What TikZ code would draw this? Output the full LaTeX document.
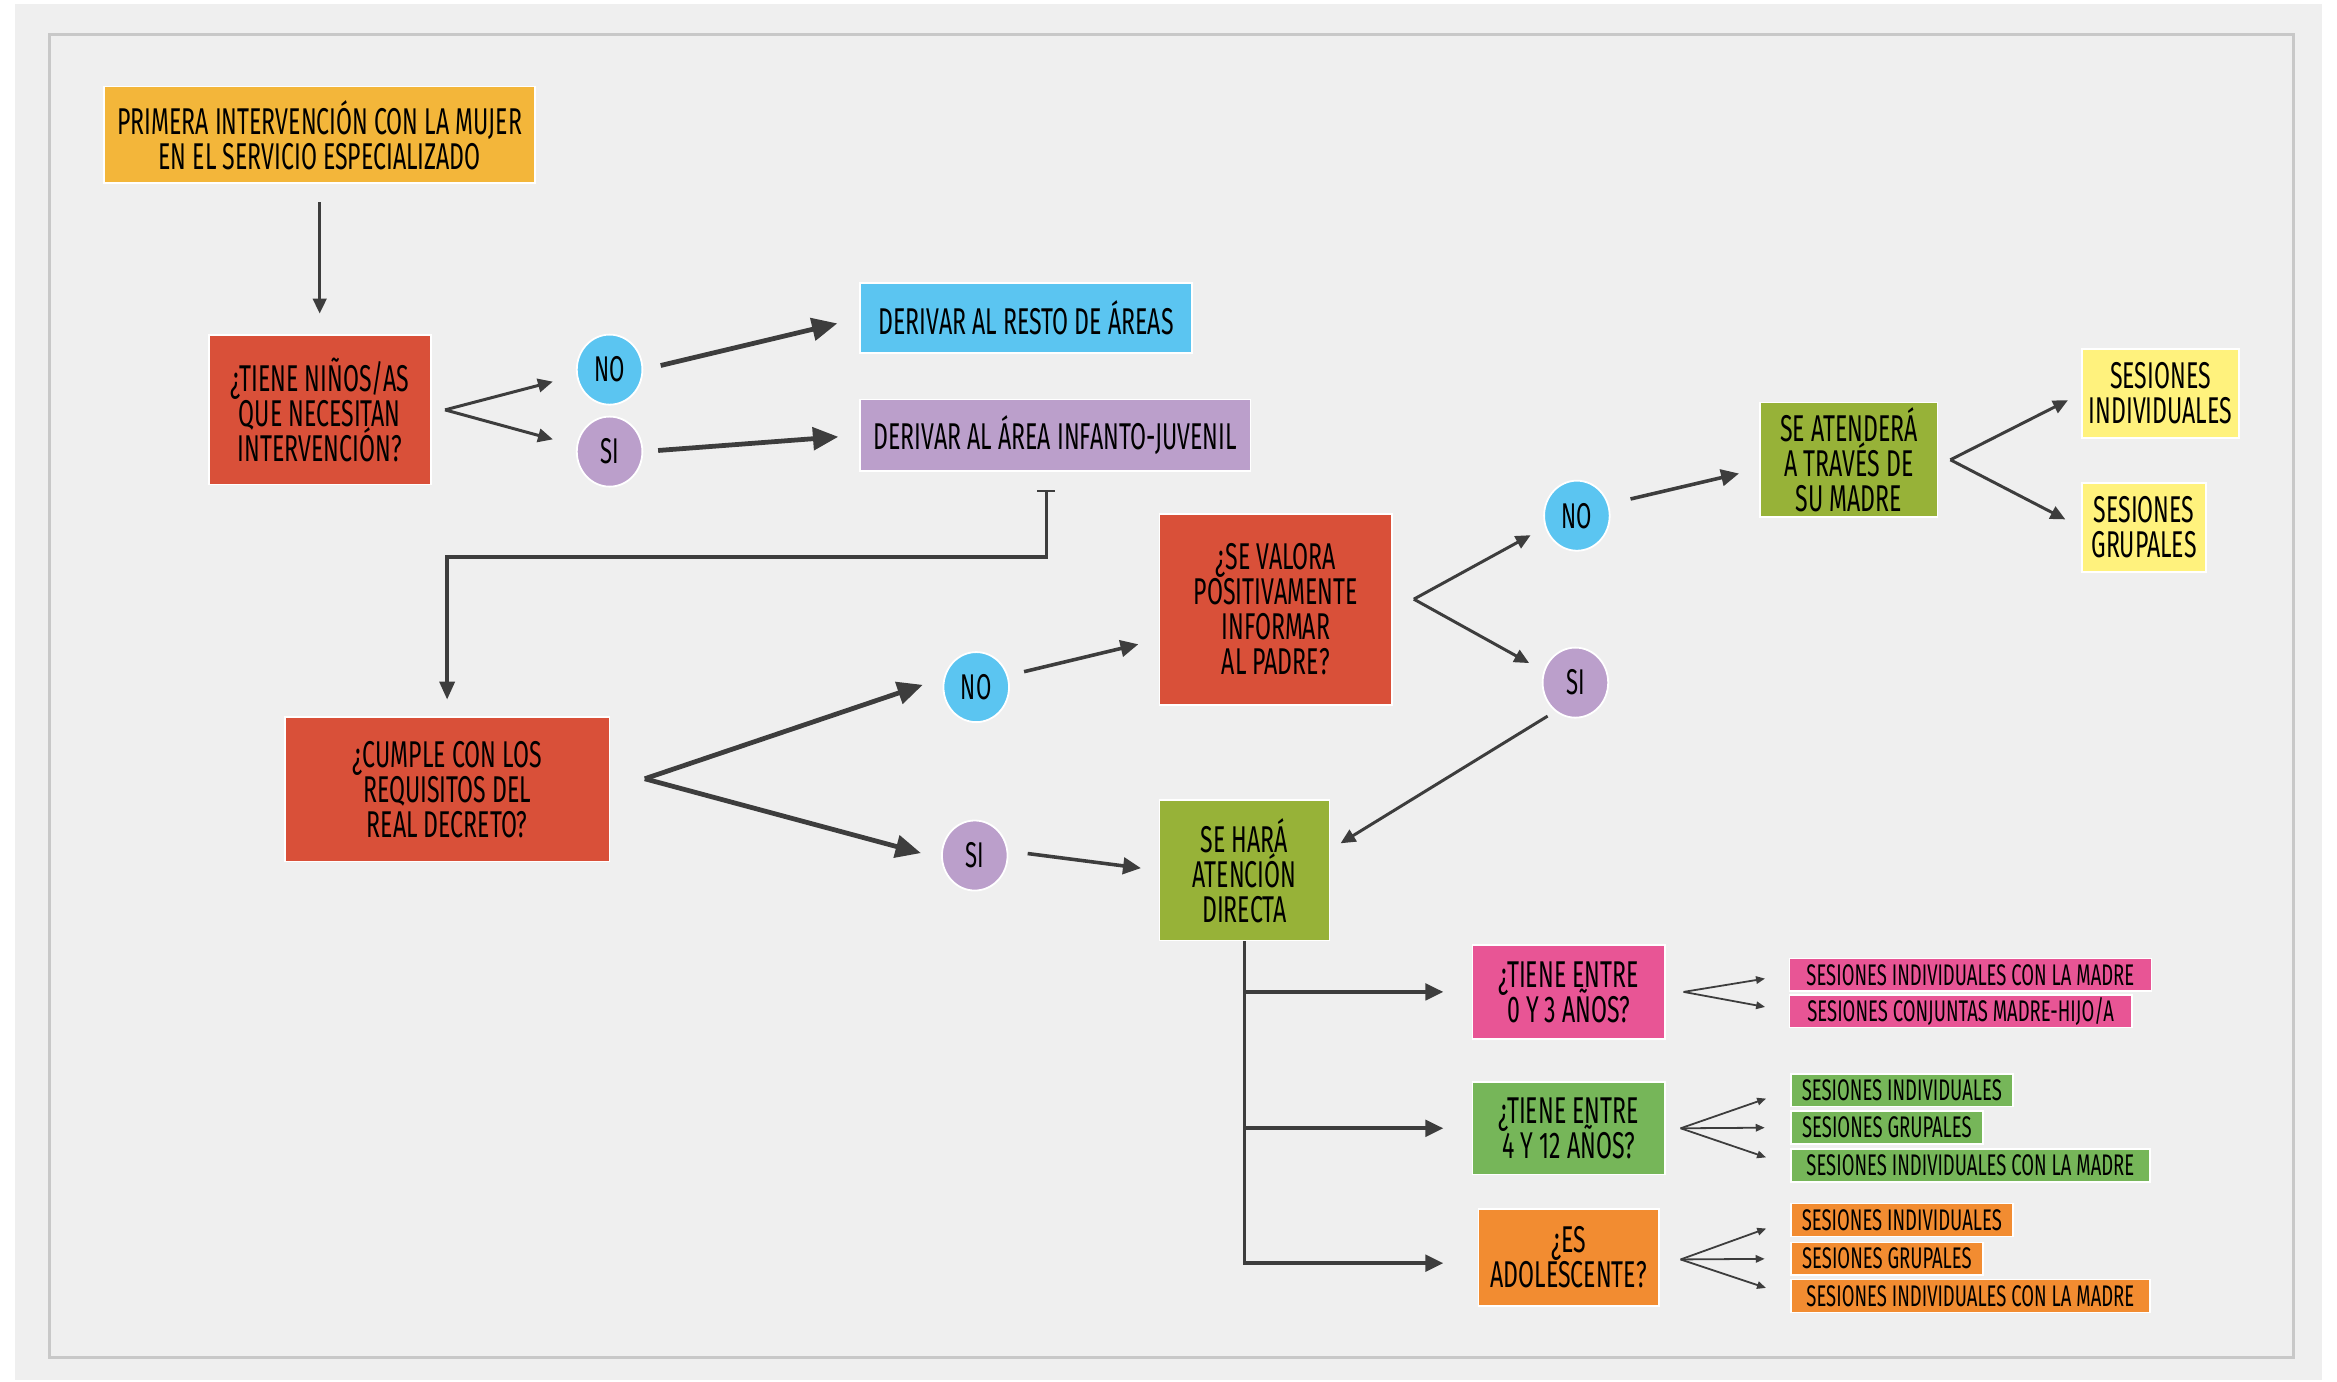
\documentclass[tikz,border=0pt]{standalone}
\usepackage{fontspec}
\setmainfont[FakeStretch=0.62]{Fira Sans}
\usetikzlibrary{arrows.meta,calc,shapes.geometric}
\newcommand{\tightlines}{\lineskiplimit=-30pt\relax\lineskip=0pt\relax}
\definecolor{bgc}{HTML}{EFEFEF}
\definecolor{frame}{HTML}{C8C8C8}
\definecolor{ar}{HTML}{3D3D3D}
\definecolor{cgold}{HTML}{F3B63A}
\definecolor{cred}{HTML}{D95039}
\definecolor{cblue}{HTML}{5BC5F1}
\definecolor{cpurp}{HTML}{BB9FCB}
\definecolor{colive}{HTML}{97B238}
\definecolor{cyell}{HTML}{FFF27D}
\definecolor{cpink}{HTML}{E85595}
\definecolor{cgreen}{HTML}{76B659}
\definecolor{corange}{HTML}{F28C31}
\tikzset{
  box/.style={draw=white, line width=1.2pt, inner sep=0pt, align=center,
    font={\fontsize{25}{23.5}\selectfont\tightlines}},
  circ/.style={ellipse, draw=white, line width=1.2pt, inner sep=0pt,
    minimum width=44pt, minimum height=47pt, font=\fontsize{24}{24}\selectfont},
  item/.style={draw=white, line width=1pt, anchor=west, inner xsep=2pt, inner ysep=0pt,
    minimum height=22pt, font=\fontsize{20}{20}\selectfont},
  thickar/.style={draw=ar, line width=3.2pt, -{Triangle[length=17pt,width=15pt]}},
  midar/.style={draw=ar, line width=2.4pt, -{Triangle[length=12pt,width=11pt]}},
  smallar/.style={draw=ar, line width=2pt, -{Triangle[length=10pt,width=9pt]}},
  tinyar/.style={draw=ar, line width=1.2pt, -{Triangle[length=6pt,width=5pt]}},
}
\begin{document}
\begin{tikzpicture}[x=1pt,y=-1pt]
\useasboundingbox (0,0) rectangle (1568,927.2);
\fill[white] (0,0) rectangle (1568,927.2);
\fill[bgc] (10,3) rectangle (1558,926);
\draw[frame, line width=2pt] (33,23) rectangle (1539,911);

% nodes
\node[box, fill=cgold, minimum width=289pt, minimum height=65pt] (prim) at (214.5,90.5)
  {PRIMERA INTERVENCIÓN CON LA MUJER\\EN EL SERVICIO ESPECIALIZADO};
\node[box, fill=cred, minimum width=149pt, minimum height=100pt] (tiene) at (214.5,275)
  {¿TIENE NIÑOS/AS\\QUE NECESITAN\\INTERVENCIÓN?};
\node[circ, fill=cblue] (no1) at (409,248) {NO};
\node[circ, fill=cpurp] (si1) at (409,303) {SI};
\node[box, fill=cblue, minimum width=223pt, minimum height=47pt] (resto) at (688.5,213.5)
  {DERIVAR AL RESTO DE ÁREAS};
\node[box, fill=cpurp, minimum width=262pt, minimum height=48pt] (infanto) at (708,292)
  {DERIVAR AL ÁREA INFANTO-JUVENIL};
\node[box, fill=cred, minimum width=218pt, minimum height=97pt] (cumple) at (300,529.5)
  {¿CUMPLE CON LOS\\REQUISITOS DEL\\REAL DECRETO?};
\node[circ, fill=cblue] (no2) at (655,461) {NO};
\node[circ, fill=cpurp] (si2) at (654,574) {SI};
\node[box, fill=cred, minimum width=156pt, minimum height=128pt] (valora) at (856,409)
  {¿SE VALORA\\POSITIVAMENTE\\INFORMAR\\AL PADRE?};
\node[circ, fill=cblue] (no3) at (1058,346) {NO};
\node[circ, fill=cpurp] (si3) at (1057,458) {SI};
\node[box, fill=colive, minimum width=119pt, minimum height=77pt] (atendera) at (1240.5,308.5)
  {SE ATENDERÁ\\A TRAVÉS DE\\SU MADRE};
\node[box, fill=cyell, minimum width=105pt, minimum height=60pt] (sind) at (1449.5,264)
  {SESIONES\\INDIVIDUALES};
\node[box, fill=cyell, minimum width=83pt, minimum height=60pt] (sgru) at (1438.5,354)
  {SESIONES\\GRUPALES};
\node[box, fill=colive, minimum width=114pt, minimum height=94pt] (directa) at (835,584)
  {SE HARÁ\\ATENCIÓN\\DIRECTA};
\node[box, fill=cpink, minimum width=129pt, minimum height=63pt] (q03) at (1052.5,665.5)
  {¿TIENE ENTRE\\0 Y 3 AÑOS?};
\node[box, fill=cgreen, minimum width=129pt, minimum height=62pt] (q412) at (1052.5,757)
  {¿TIENE ENTRE\\4 Y 12 AÑOS?};
\node[box, fill=corange, minimum width=121pt, minimum height=65pt] (qado) at (1052.5,843.5)
  {¿ES\\ADOLESCENTE?};

\node[item, fill=cpink, minimum width=243pt] (p1) at (1200,654) {SESIONES INDIVIDUALES CON LA MADRE};
\node[item, fill=cpink, minimum width=230pt] (p2) at (1200,678.5) {SESIONES CONJUNTAS MADRE-HIJO/A};
\node[item, fill=cgreen, minimum width=149pt] (g1) at (1201,731.5) {SESIONES INDIVIDUALES};
\node[item, fill=cgreen, minimum width=129pt] (g2) at (1201,756.5) {SESIONES GRUPALES};
\node[item, fill=cgreen, minimum width=241pt] (g3) at (1201,782) {SESIONES INDIVIDUALES CON LA MADRE};
\node[item, fill=corange, minimum width=149pt] (o1) at (1201,818.5) {SESIONES INDIVIDUALES};
\node[item, fill=corange, minimum width=129pt] (o2) at (1201,844.5) {SESIONES GRUPALES};
\node[item, fill=corange, minimum width=241pt] (o3) at (1201,869.5) {SESIONES INDIVIDUALES CON LA MADRE};

% fork points
\coordinate (f1) at ([xshift=9pt]tiene.east);
\coordinate (f2) at ([xshift=23pt,yshift=7pt]cumple.east);
\coordinate (f3) at ([xshift=14pt,yshift=7pt]valora.east);
\coordinate (f4) at ([xshift=8pt]atendera.east);
\coordinate (f5) at ([xshift=12pt]q03.east);
\coordinate (f6) at ([xshift=10pt]q412.east);
\coordinate (f7) at ([xshift=14pt,yshift=-1.5pt]qado.east);

% connectors
\draw[smallar, shorten <=12pt, shorten >=14pt] (prim.south) -- (tiene.north);
\draw[smallar, shorten >=16pt] (f1) -- ([yshift=-4pt]no1.west);
\draw[smallar, shorten >=16pt] (f1) -- ([yshift=4pt]si1.west);
\draw[thickar, shorten <=12pt, shorten >=15pt] (no1.east) -- (resto.west);
\draw[thickar, shorten <=10pt, shorten >=14pt] (si1.east) -- (infanto.west);
\draw[draw=ar, line width=2.4pt, {Bar[width=12pt,line width=1.5pt]}-{Triangle[length=12pt,width=10pt]},
  shorten <=12pt, shorten >=11pt]
  ([xshift=-6pt]infanto.south) -- ++(0,57) -| (cumple.north);
\draw[thickar, shorten >=14pt] (f2) -- ([yshift=6pt]no2.west);
\draw[thickar, shorten >=14pt] (f2) -- ([yshift=-2pt]si2.west);
\draw[midar, shorten <=11pt, shorten >=14pt] (no2.20) -- ([yshift=-20pt]valora.west);
\draw[midar, shorten <=13pt, shorten >=12pt] ([yshift=3pt]si2.east) -- (directa.west);
\draw[smallar, shorten >=11pt] (f3) -- (no3.200);
\draw[smallar, shorten >=11pt] (f3) -- (si3.160);
\draw[midar, shorten <=15pt, shorten >=14pt] (no3.20) -- ([yshift=-6pt]atendera.west);
\draw[smallar, shorten <=6pt, shorten >=8pt] (si3.235) -- ([yshift=14pt]directa.east);
\draw[smallar, shorten >=10pt] (f4) -- (sind.west);
\draw[smallar, shorten >=12pt] (f4) -- (sgru.west);
\draw[midar, shorten >=19pt] (directa.south) |- (q03.west);
\draw[midar, shorten >=19pt] (directa.south) |- (q412.west);
\draw[midar, shorten >=23pt] (directa.south) |- ([yshift=-4pt]qado.west);
\draw[tinyar, shorten >=16pt] (f5) -- (p1.west);
\draw[tinyar, shorten >=16pt] (f5) -- (p2.west);
\draw[tinyar, shorten >=17pt] (f6) -- (g1.west);
\draw[tinyar, shorten >=17pt] (f6) -- (g2.west);
\draw[tinyar, shorten >=17pt] (f6) -- (g3.west);
\draw[tinyar, shorten >=17pt] (f7) -- (o1.west);
\draw[tinyar, shorten >=17pt] (f7) -- (o2.west);
\draw[tinyar, shorten >=17pt] (f7) -- (o3.west);
\end{tikzpicture}
\end{document}
